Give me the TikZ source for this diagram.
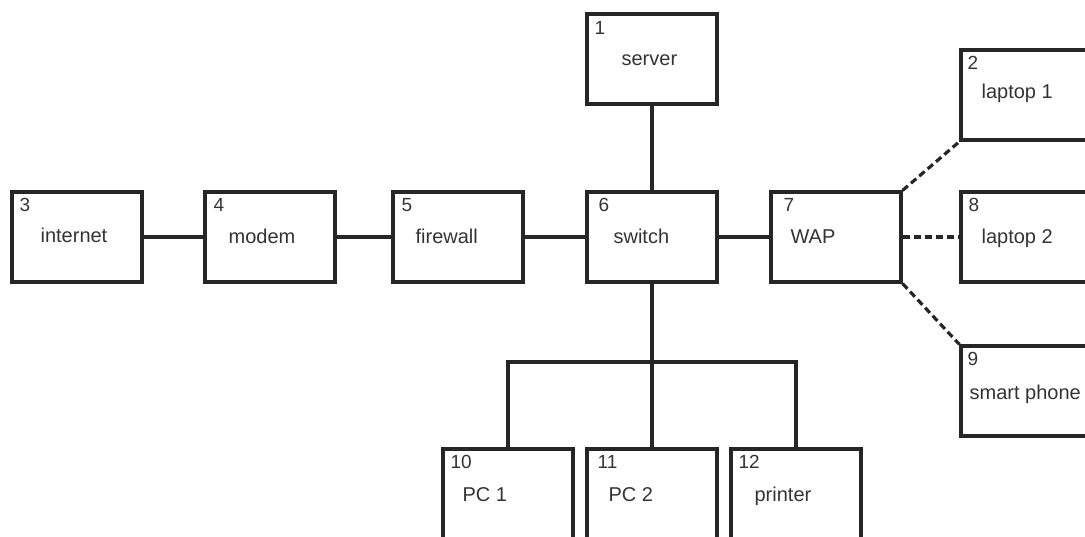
\documentclass[tikz,border=0pt]{standalone}
\usepackage{fontspec}
\setmainfont{Liberation Sans}
\usetikzlibrary{positioning}

\tikzset{
  device/.style={draw=black!85, line width=3.2pt, minimum width=130pt, minimum height=90pt, inner sep=0pt},
  devnum/.style={anchor=north west, inner sep=0pt, text=black!80, font=\fontsize{19}{22}\selectfont},
  devname/.style={anchor=base west, inner sep=0pt, text=black!80, font=\fontsize{20}{24}\selectfont},
  wire/.style={draw=black!85, line width=3.2pt},
  radio/.style={wire, dash pattern=on 7pt off 4pt},
}

\begin{document}
\begin{tikzpicture}[x=1pt, y=-1pt]
  \useasboundingbox (0,0) rectangle (1085,537);
  % devices
  \node[device] (server) at (652,59) {};
  \node[device] (lap1) at (1026,95) {};
  \node[device] (inet) at (77,237) {};
  \node[device] (modem) at (270,237) {};
  \node[device] (fw) at (458,237) {};
  \node[device] (sw) at (652,237) {};
  \node[device] (wap) at (836,237) {};
  \node[device] (lap2) at (1026,237) {};
  \node[device] (phone) at (1026,391) {};
  \node[device, minimum height=110pt] (pc1) at (508,504) {};
  \node[device, minimum height=110pt] (pc2) at (652,504) {};
  \node[device, minimum height=110pt] (prn) at (796,504) {};
  % numbers
  \node[devnum] (server-n) at ([xshift=9pt,yshift=-9pt]server.north west) {1};
  \node[devnum] (lap1-n) at ([xshift=8pt,yshift=-8pt]lap1.north west) {2};
  \node[devnum] (inet-n) at ([xshift=9pt,yshift=-8pt]inet.north west) {3};
  \node[devnum] (modem-n) at ([xshift=10pt,yshift=-8pt]modem.north west) {4};
  \node[devnum] (fw-n) at ([xshift=10pt,yshift=-8pt]fw.north west) {5};
  \node[devnum] (sw-n) at ([xshift=13pt,yshift=-8pt]sw.north west) {6};
  \node[devnum] (wap-n) at ([xshift=14pt,yshift=-8pt]wap.north west) {7};
  \node[devnum] (lap2-n) at ([xshift=9pt,yshift=-8pt]lap2.north west) {8};
  \node[devnum] (phone-n) at ([xshift=8pt,yshift=-8pt]phone.north west) {9};
  \node[devnum] (pc1-n) at ([xshift=9pt,yshift=-8pt]pc1.north west) {10};
  \node[devnum] (pc2-n) at ([xshift=12pt,yshift=-8pt]pc2.north west) {11};
  \node[devnum] (prn-n) at ([xshift=9pt,yshift=-8pt]prn.north west) {12};
  % names
  \node[devname] (server-t) at ([xshift=36pt,yshift=-53pt]server.north west) {server};
  \node[devname] (lap1-t) at ([xshift=22pt,yshift=-50pt]lap1.north west) {laptop 1};
  \node[devname] (inet-t) at ([xshift=30pt,yshift=-52pt]inet.north west) {internet};
  \node[devname] (modem-t) at ([xshift=25pt,yshift=-53pt]modem.north west) {modem};
  \node[devname] (fw-t) at ([xshift=24pt,yshift=-53pt]fw.north west) {firewall};
  \node[devname] (sw-t) at ([xshift=28pt,yshift=-53pt]sw.north west) {switch};
  \node[devname] (wap-t) at ([xshift=21pt,yshift=-53pt]wap.north west) {WAP};
  \node[devname] (lap2-t) at ([xshift=22pt,yshift=-53pt]lap2.north west) {laptop 2};
  \node[devname] (phone-t) at ([xshift=10pt,yshift=-55pt]phone.north west) {smart phone};
  \node[devname] (pc1-t) at ([xshift=21pt,yshift=-54pt]pc1.north west) {PC 1};
  \node[devname] (pc2-t) at ([xshift=23pt,yshift=-54pt]pc2.north west) {PC 2};
  \node[devname] (prn-t) at ([xshift=25pt,yshift=-54pt]prn.north west) {printer};
  % wired links
  \draw[wire] (inet) -- (modem);
  \draw[wire] (modem) -- (fw);
  \draw[wire] (fw) -- (sw);
  \draw[wire] (sw) -- (wap);
  \draw[wire] (server) -- (sw);
  \coordinate (bus) at (652,362);
  \draw[wire] (sw) -- (pc2);
  \draw[wire] (pc1.north) |- (bus) -| (prn.north);
  % wireless links
  \draw[radio] (wap.north east) -- (lap1.south west);
  \draw[radio] (wap) -- (lap2);
  \draw[radio] (wap.south east) -- (phone.north west);
\end{tikzpicture}
\end{document}
